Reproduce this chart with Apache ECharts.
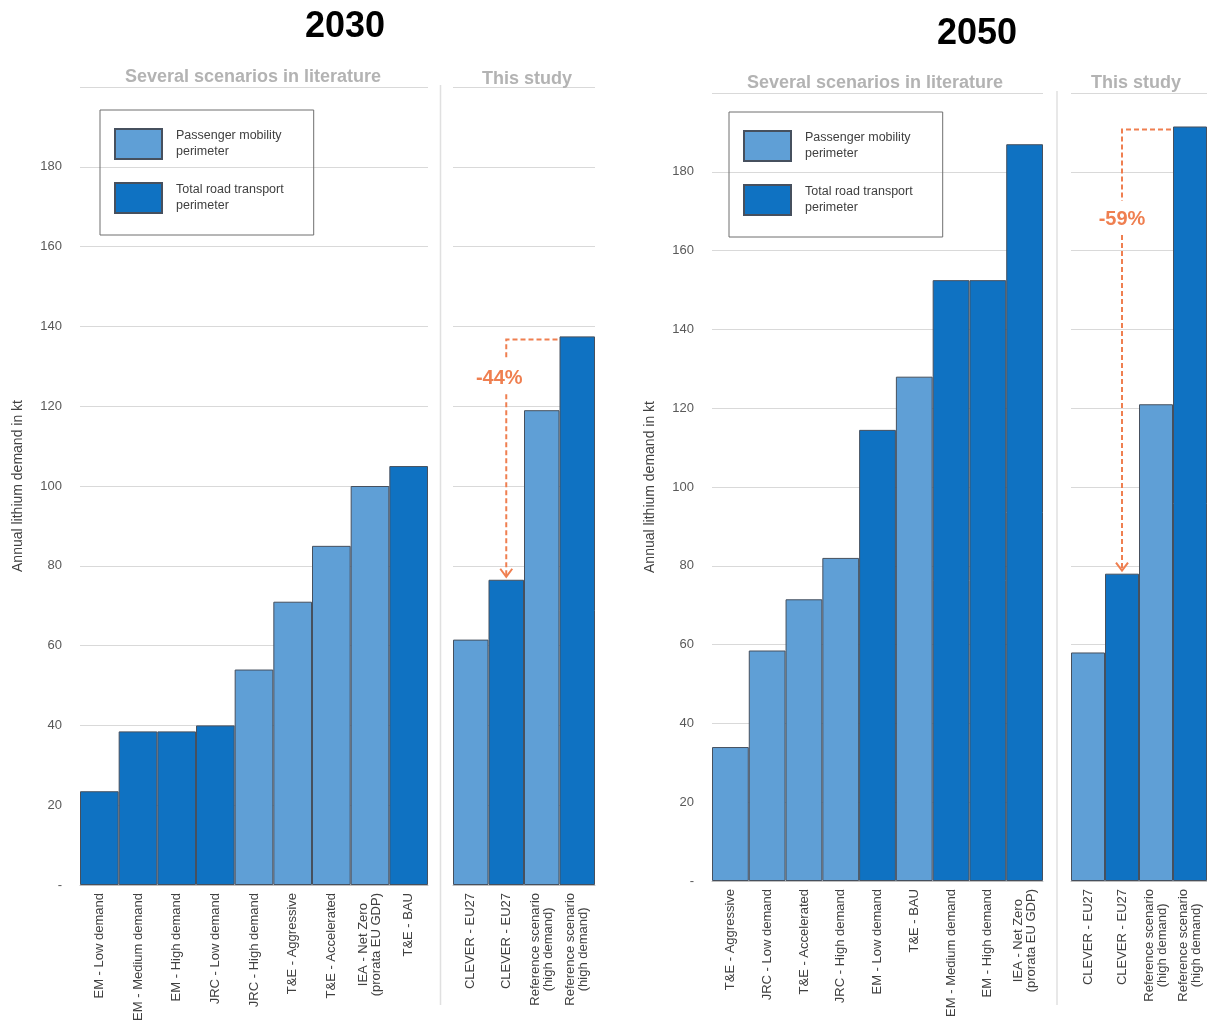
<!DOCTYPE html>
<html>
<head>
<meta charset="utf-8">
<script src="https://cdn.jsdelivr.net/npm/echarts@6/dist/echarts.min.js"></script>
<style>
  html, body { margin: 0; padding: 0; background: #fff; }
  #main { width: 1207px; height: 1021px; }
</style>
</head>
<body>
<div id="main"></div>
<script>
// 数据
const litLabels2030 = ['EM - Low demand', 'EM - Medium demand', 'EM - High demand', 'JRC - Low demand', 'JRC - High demand', 'T&E - Aggressive', 'T&E - Accelerated', 'IEA - Net Zero\n(prorata EU GDP)', 'T&E - BAU']
const litValues2030 = [23.5, 38.5, 38.5, 40, 54, 71, 85, 100, 105]
const litPerimeter2030 = ['T', 'T', 'T', 'T', 'P', 'P', 'P', 'P', 'T']

const litLabels2050 = ['T&E - Aggressive', 'JRC - Low demand', 'T&E - Accelerated', 'JRC - High demand', 'EM - Low demand', 'T&E - BAU', 'EM - Medium demand', 'EM - High demand', 'IEA - Net Zero\n(prorata EU GDP)']
const litValues2050 = [34, 58.5, 71.5, 82, 114.5, 128, 152.5, 152.5, 187]
const litPerimeter2050 = ['P', 'P', 'P', 'P', 'T', 'P', 'T', 'T', 'T']

const studyLabels = ['CLEVER - EU27', 'CLEVER - EU27', 'Reference scenario\n(high demand)', 'Reference scenario\n(high demand)']
const studyValues2030 = [61.5, 76.5, 119, 137.5]
const studyValues2050 = [58, 78, 121, 191.5]
const studyPerimeter = ['P', 'T', 'P', 'T']

const yMin = 0
const yMax = 200
const yStep = 20

const years = ['2030', '2050']
const panelTitles = ['Several scenarios in literature', 'This study']
const legendNames = ['Passenger mobility\nperimeter', 'Total road transport\nperimeter']
const reductions = ['-44%', '-59%']
const reductionLabelAt = [127, 168] // 标注文字所在的数值高度

const FONT = '"Liberation Sans", Arial, Helvetica, sans-serif'
const LIGHT = '#5f9fd6'
const DARK = '#0f72c2'
const ORANGE = '#ef7f50'

// 网格位置
const grids = [
  { left: 80, top: 87, width: 348, height: 798 },
  { left: 453, top: 87, width: 142, height: 798 },
  { left: 712, top: 93, width: 331, height: 788 },
  { left: 1071, top: 93, width: 136, height: 788 }
].map(g => Object.assign(g, { outerBoundsMode: 'none', containLabel: false }))
const panels = [
  { labels: litLabels2030, values: litValues2030, perim: litPerimeter2030 },
  { labels: studyLabels, values: studyValues2030, perim: studyPerimeter },
  { labels: litLabels2050, values: litValues2050, perim: litPerimeter2050 },
  { labels: studyLabels, values: studyValues2050, perim: studyPerimeter }
]

let myChart = echarts.init(document.getElementById('main'))

const xAxes = panels.map((p, i) => ({
  type: 'category',
  gridIndex: i,
  data: p.labels,
  axisTick: { show: false },
  axisLine: { lineStyle: { color: '#bfbfbf', width: 1 } },
  axisLabel: {
    interval: 0,
    rotate: 90,
    margin: 8,
    // 每行居中
    formatter (v) {
      return v.split('\n').map(s => '{c|' + s + '}').join('\n')
    },
    rich: {
      c: { align: 'center', fontFamily: FONT, fontSize: 13, lineHeight: 13, color: '#404040' }
    }
  }
}))

const yAxes = panels.map((p, i) => ({
  type: 'value',
  gridIndex: i,
  min: yMin,
  max: yMax,
  interval: yStep,
  name: i % 2 === 0 ? 'Annual lithium demand in kt' : '',
  nameLocation: 'middle',
  nameGap: 55,
  nameTextStyle: { fontFamily: FONT, fontSize: 14, color: '#404040' },
  axisLine: { show: false },
  axisTick: { show: false },
  axisLabel: {
    show: i % 2 === 0,
    margin: 18,
    fontFamily: FONT,
    fontSize: 13,
    color: '#595959',
    formatter (v) {
      if (v === 0) return '-'
      if (v === yMax) return ''
      return v
    }
  },
  splitLine: { show: true, lineStyle: { color: '#d9d9d9', width: 1 } }
}))

const series = []
panels.forEach((p, i) => {
  ['P', 'T'].forEach((k, j) => {
    series.push({
      name: legendNames[j],
      type: 'bar',
      xAxisIndex: i,
      yAxisIndex: i,
      barCategoryGap: 0,
      barGap: '-100%',
      data: p.values.map((v, n) => (p.perim[n] === k ? v : '-')),
      itemStyle: { color: k === 'P' ? LIGHT : DARK, borderColor: '#46505e', borderWidth: 1 }
    })
  })
})

const legends = [{ left: 100, top: 110 }, { left: 729, top: 112 }].map(pos => ({
  left: pos.left,
  top: pos.top,
  orient: 'vertical',
  data: legendNames,
  selectedMode: false,
  icon: 'rect',
  itemWidth: 47,
  itemHeight: 30,
  itemGap: 22,
  padding: [18, 30, 21, 14],
  borderColor: '#6f6f6f',
  borderWidth: 1,
  textStyle: { fontFamily: FONT, fontSize: 12.5, lineHeight: 16, color: '#404040', padding: [0, 0, 0, 9] }
}))

const titles = [
  { text: years[0], left: 340, top: 4 },
  { text: years[1], left: 972, top: 11 }
].map(t => ({
  text: t.text,
  left: t.left,
  top: t.top,
  textAlign: 'center',
  textStyle: { fontFamily: FONT, fontSize: 36, fontWeight: 'bold', color: '#000' }
}))
const subTitles = [
  { text: panelTitles[0], left: 248, top: 63 },
  { text: panelTitles[1], left: 522, top: 65 },
  { text: panelTitles[0], left: 870, top: 69 },
  { text: panelTitles[1], left: 1131, top: 69 }
].map(t => ({
  text: t.text,
  left: t.left,
  top: t.top,
  textAlign: 'center',
  textStyle: { fontFamily: FONT, fontSize: 18, fontWeight: 'bold', color: '#b3b3b3' }
}))

myChart.setOption({
  animation: false,
  backgroundColor: '#fff',
  title: titles.concat(subTitles),
  legend: legends,
  grid: grids,
  xAxis: xAxes,
  yAxis: yAxes,
  series: series
})

// 分隔线与降幅标注
const graphics = []
;[0, 2].forEach(g => {
  const x = (grids[g].left + grids[g].width + grids[g + 1].left) / 2
  graphics.push({
    type: 'line',
    shape: { x1: x, y1: grids[g].top - 2, x2: x, y2: 1005 },
    style: { stroke: '#e0e0e0', lineWidth: 1.5 }
  })
})

;[1, 3].forEach((g, k) => {
  const vals = panels[g].values
  const finder = { xAxisIndex: g, yAxisIndex: g }
  const top = myChart.convertToPixel(finder, [3, vals[3]])
  const low = myChart.convertToPixel(finder, [1, vals[1]])
  const lab = myChart.convertToPixel(finder, [1, reductionLabelAt[k]])
  const bw = grids[g].width / panels[g].values.length
  const x = low[0]
  const yTop = top[1] + 3
  const yTip = low[1] - 3
  const dash = { stroke: ORANGE, lineWidth: 2, lineDash: [5, 3], fill: null }
  graphics.push({
    type: 'polyline',
    shape: { points: [[top[0] - bw / 2 - 2, yTop], [x, yTop], [x, lab[1] - 18]] },
    style: dash
  })
  graphics.push({
    type: 'line',
    shape: { x1: x, y1: lab[1] + 16, x2: x, y2: yTip },
    style: dash
  })
  graphics.push({
    type: 'polyline',
    shape: { points: [[x - 6, yTip - 8], [x, yTip], [x + 6, yTip - 8]] },
    style: { stroke: ORANGE, lineWidth: 2, fill: null }
  })
  graphics.push({
    type: 'text',
    x: x - (k === 0 ? 7 : 0),
    y: lab[1],
    style: {
      text: reductions[k],
      fill: ORANGE,
      font: 'bold 20px ' + FONT,
      align: 'center',
      verticalAlign: 'middle'
    }
  })
})

myChart.setOption({ graphic: graphics })
</script>
</body>
</html>
